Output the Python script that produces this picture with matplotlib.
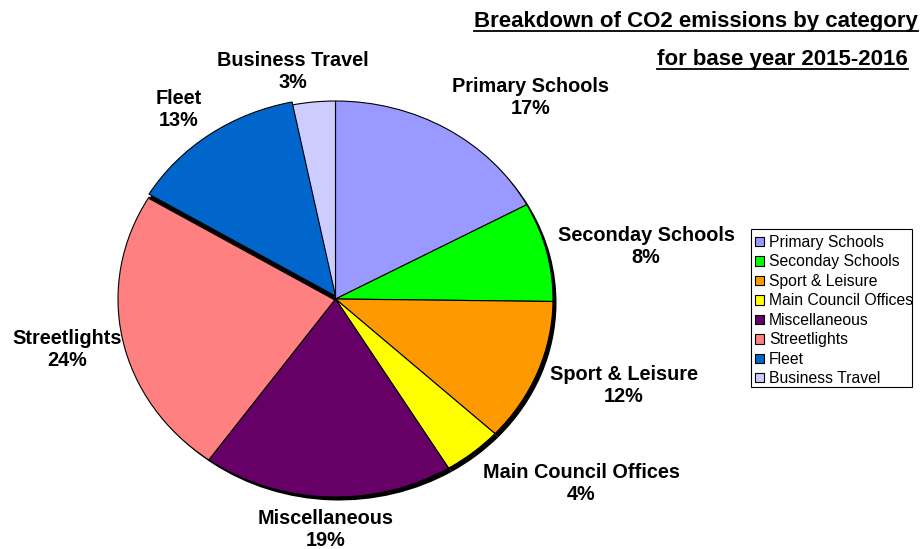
import matplotlib
matplotlib.use("Agg")
import matplotlib.pyplot as plt
from matplotlib.lines import Line2D
from matplotlib.patches import Rectangle

# share of CO2 emissions, base year 2015-2016 (%)
categories = ["Primary Schools", "Seconday Schools", "Sport & Leisure",
              "Main Council Offices", "Miscellaneous", "Streetlights",
              "Fleet", "Business Travel"]
shares = [17.1, 8.1, 11.7, 4.4, 18.6, 23.7, 13.2, 3.2]
colors = ["#9999FF", "#00FF00", "#FF9900", "#FFFF00",
          "#660066", "#FF8080", "#0066CC", "#CCCCFF"]

# label centres in pixels (from top-left)
label_pos = [(531, 98), (646, 246), (624, 385), (581, 484),
             (326, 529), (67, 349), (179, 109), (293, 71)]

W, H = 922, 549
fig = plt.figure(figsize=(W / 100, H / 100), dpi=100)
plt.rcParams["font.family"] = ["Liberation Sans", "DejaVu Sans"]

# the pie in the picture is slightly wider than tall
left, right, top, bottom = 118, 553, 101, 497
rx, ry = (right - left) / 2, (bottom - top) / 2
ax = fig.add_axes([left / W, 1 - bottom / H, (right - left) / W, (bottom - top) / H])

sx, sy = 3.5 / rx, 3.5 / ry

# drop shadow
shadow, _ = ax.pie(shares, colors=["black"] * len(shares), startangle=90,
                   counterclock=False, center=(sx, -sy),
                   wedgeprops=dict(linewidth=0))
wedges, _ = ax.pie(shares, colors=colors, startangle=90, counterclock=False,
                   wedgeprops=dict(edgecolor="black", linewidth=0.8))
for w in shadow:
    w.set_zorder(1)
for w in wedges:
    w.set_zorder(2)
# fleet is lifted a little, its shadow falls onto streetlights
wedges[6].set_center((0, 3 / ry))
shadow[6].set_center((0, -2 / ry))
shadow[6].set_zorder(2.5)
wedges[7].set_zorder(2.7)
wedges[6].set_zorder(3)

ax.set_aspect("auto")
ax.set_xlim(-1, 1)
ax.set_ylim(-1, 1)
ax.axis("off")

for name, val, (px, py) in zip(categories, shares, label_pos):
    fig.text(px / W, 1 - py / H, f"{name}\n{round(val)}%", ha="center", va="center",
             ma="center", fontsize=14.3, fontweight="bold", linespacing=1.2)

t1 = fig.text(918 / W, 1 - 22 / H, "Breakdown of CO2 emissions by category",
              ha="right", va="center", fontsize=16, fontweight="bold")
t2 = fig.text(908 / W, 1 - 60 / H, "for base year 2015-2016",
              ha="right", va="center", fontsize=16, fontweight="bold")

# legend: box drawn separately, the longest entry runs past it as in the original
fig.add_artist(Rectangle((751 / W, 1 - 387 / H), (912 - 751) / W, (387 - 229) / H,
                         transform=fig.transFigure, facecolor="white",
                         edgecolor="black", linewidth=0.8, zorder=4))
leg = fig.legend(wedges, categories, loc="upper left",
                 bbox_to_anchor=(755 / W, 1 - 235 / H), fontsize=11.3,
                 frameon=False, handlelength=0.55, handleheight=0.55,
                 handletextpad=0.35, labelspacing=0.285, borderpad=0,
                 borderaxespad=0)
leg.set_zorder(5)

# underline the title lines
fig.canvas.draw()
r = fig.canvas.get_renderer()
for t in (t1, t2):
    bb = t.get_window_extent(r)
    y = (bb.y0 + 2) / H
    fig.add_artist(Line2D([bb.x0 / W, bb.x1 / W], [y, y], color="black",
                          linewidth=1.3, transform=fig.transFigure))

fig.savefig("out.png", dpi=100)
